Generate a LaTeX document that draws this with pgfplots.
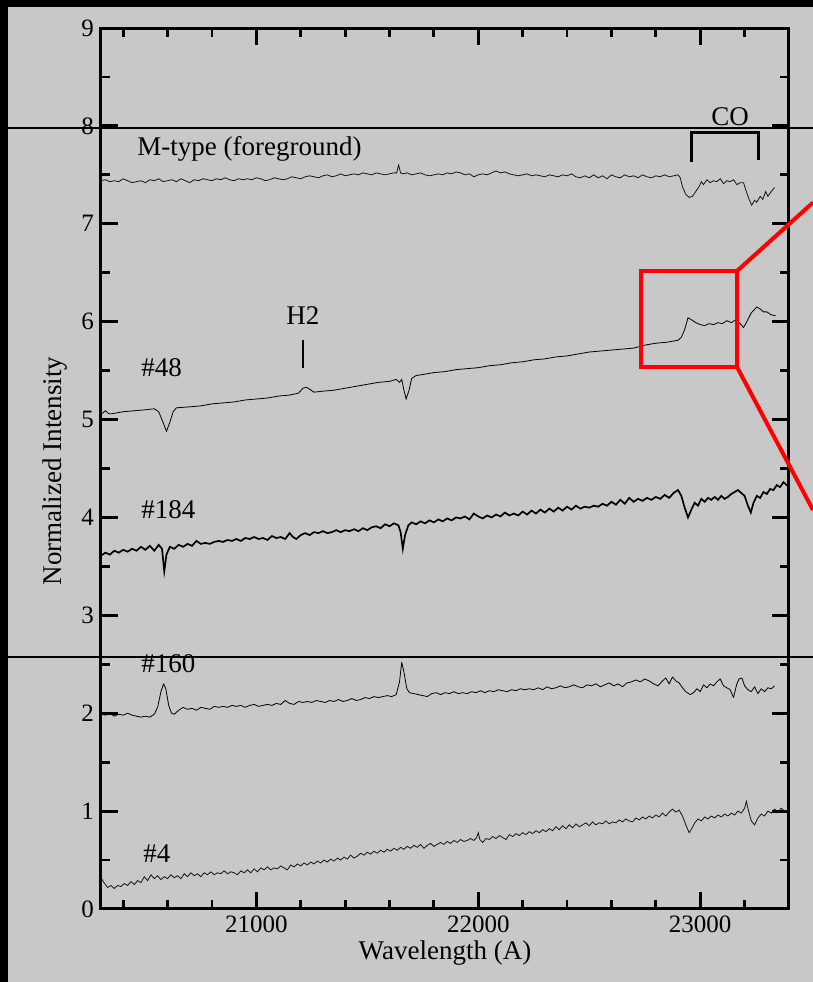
\documentclass[border=0pt]{standalone}
\usepackage{pgfplots}
\pgfplotsset{compat=1.18}
\usepackage{fontspec}
\setmainfont{Liberation Serif}
\definecolor{bggray}{RGB}{200,200,200}
\definecolor{spec}{RGB}{20,20,20}
\begin{document}
\begin{tikzpicture}
\useasboundingbox (0,0) rectangle (406.5pt,491pt);
\clip (0,0) rectangle (406.5pt,491pt);
\fill[black] (0,0) rectangle (406.5pt,491pt);
\fill[bggray] (4pt,0) rectangle (406.5pt,487.5pt);
\begin{axis}[
  at={(50.5pt,36.5pt)}, anchor=south west,
  width=344pt, height=440.5pt, scale only axis,
  xmin=20300, xmax=23400, ymin=0, ymax=9,
  scaled x ticks=false,
  xtick={21000,22000,23000}, xticklabels={21000,22000,23000},
  minor xtick={20400,20600,20800,21200,21400,21600,21800,22200,22400,22600,22800,23200},
  ytick={0,1,...,9},
  minor ytick={0.5,1.5,...,8.5},
  tick align=inside,
  major tick length=8.5pt, minor tick length=4.5pt,
  every major tick/.append style={line width=1.4pt,black},
  every minor tick/.append style={line width=1.4pt,black},
  axis line style={line width=1.5pt},
  /pgf/number format/assume math mode=true,
  tick label style={font=\fontsize{12.5}{15}\selectfont},
  xlabel={Wavelength (A)}, ylabel={Normalized Intensity},
  label style={font=\fontsize{13.5}{16}\selectfont},
  xlabel style={at={(axis description cs:0.5,-0.0499)},anchor=center},
  ylabel style={at={(axis description cs:-0.0669,0.497)},anchor=center},
  cycle list={{spec,no markers,line width=0.85pt,line join=round}},
  axis background/.style={fill=bggray},
]
% M-type (foreground)
\addplot coordinates {(20300,7.44)(20320,7.45)(20340,7.43)(20360,7.44)(20380,7.43)(20400,7.46)(20420,7.44)(20440,7.42)(20460,7.43)(20480,7.44)(20500,7.42)(20520,7.45)(20540,7.44)(20560,7.46)(20580,7.43)(20600,7.44)(20620,7.45)(20640,7.43)(20660,7.46)(20680,7.44)(20700,7.42)(20720,7.45)(20740,7.44)(20760,7.46)(20780,7.45)(20800,7.44)(20820,7.46)(20840,7.45)(20860,7.47)(20880,7.45)(20900,7.44)(20920,7.46)(20940,7.45)(20960,7.46)(20980,7.45)(21000,7.47)(21020,7.46)(21040,7.44)(21060,7.45)(21080,7.47)(21100,7.46)(21120,7.45)(21140,7.46)(21160,7.48)(21180,7.47)(21200,7.46)(21220,7.48)(21240,7.49)(21260,7.48)(21280,7.47)(21300,7.49)(21320,7.50)(21340,7.48)(21360,7.49)(21380,7.51)(21400,7.49)(21420,7.50)(21440,7.51)(21460,7.50)(21480,7.52)(21500,7.51)(21520,7.50)(21540,7.52)(21560,7.51)(21580,7.50)(21600,7.51)(21620,7.52)(21632,7.52)(21641,7.60)(21650,7.52)(21660,7.51)(21680,7.52)(21700,7.50)(21720,7.51)(21740,7.52)(21760,7.50)(21780,7.49)(21800,7.50)(21820,7.51)(21840,7.50)(21860,7.52)(21880,7.51)(21900,7.53)(21920,7.52)(21940,7.50)(21960,7.51)(21980,7.48)(22000,7.50)(22020,7.51)(22040,7.50)(22060,7.52)(22080,7.54)(22100,7.52)(22120,7.53)(22140,7.51)(22160,7.50)(22180,7.49)(22200,7.50)(22220,7.51)(22240,7.49)(22260,7.50)(22280,7.49)(22300,7.48)(22320,7.50)(22340,7.49)(22360,7.48)(22380,7.50)(22400,7.49)(22420,7.51)(22440,7.48)(22460,7.47)(22480,7.49)(22500,7.47)(22520,7.50)(22540,7.47)(22560,7.49)(22580,7.46)(22600,7.50)(22620,7.48)(22640,7.47)(22660,7.50)(22680,7.48)(22700,7.49)(22720,7.47)(22740,7.50)(22760,7.48)(22780,7.47)(22800,7.49)(22820,7.48)(22840,7.50)(22860,7.48)(22880,7.49)(22900,7.50)(22910,7.47)(22920,7.38)(22935,7.30)(22950,7.27)(22965,7.28)(22980,7.33)(22995,7.38)(23005,7.43)(23015,7.40)(23030,7.45)(23045,7.42)(23060,7.44)(23075,7.43)(23090,7.46)(23105,7.41)(23120,7.44)(23135,7.43)(23150,7.45)(23165,7.40)(23180,7.42)(23195,7.42)(23205,7.35)(23220,7.25)(23232,7.19)(23245,7.24)(23255,7.22)(23270,7.28)(23282,7.25)(23295,7.33)(23305,7.28)(23320,7.33)(23335,7.37)};
% #48
\addplot coordinates {(20300,5.05)(20310,5.07)(20320,5.09)(20335,5.06)(20350,5.06)(20400,5.08)(20450,5.09)(20500,5.10)(20540,5.11)(20560,5.08)(20580,4.97)(20595,4.88)(20610,4.97)(20625,5.08)(20640,5.12)(20700,5.13)(20750,5.14)(20800,5.16)(20850,5.17)(20900,5.18)(20950,5.20)(21000,5.21)(21050,5.22)(21100,5.24)(21150,5.25)(21190,5.27)(21210,5.32)(21225,5.33)(21240,5.31)(21260,5.28)(21300,5.29)(21350,5.30)(21400,5.32)(21450,5.34)(21500,5.36)(21550,5.38)(21600,5.39)(21630,5.41)(21645,5.38)(21655,5.41)(21665,5.30)(21675,5.21)(21688,5.30)(21700,5.42)(21720,5.45)(21750,5.46)(21800,5.48)(21850,5.49)(21900,5.51)(21950,5.52)(22000,5.53)(22050,5.55)(22100,5.56)(22150,5.58)(22200,5.59)(22250,5.61)(22300,5.62)(22350,5.64)(22400,5.65)(22450,5.67)(22500,5.69)(22550,5.70)(22600,5.71)(22650,5.72)(22700,5.73)(22750,5.76)(22800,5.78)(22850,5.79)(22900,5.81)(22915,5.84)(22930,5.92)(22945,6.04)(22960,6.02)(22980,5.99)(23000,5.97)(23020,5.96)(23040,5.98)(23060,5.97)(23080,5.99)(23100,5.98)(23120,6.01)(23140,5.99)(23160,6.02)(23180,5.98)(23195,5.94)(23210,6.00)(23230,6.09)(23255,6.15)(23270,6.13)(23285,6.10)(23300,6.10)(23320,6.07)(23340,6.06)};
% #184
\addplot coordinates {(20300,3.61)(20320,3.64)(20340,3.62)(20360,3.66)(20380,3.64)(20400,3.67)(20420,3.65)(20440,3.68)(20460,3.66)(20480,3.70)(20500,3.67)(20520,3.71)(20540,3.66)(20560,3.72)(20575,3.68)(20585,3.45)(20595,3.62)(20610,3.70)(20630,3.68)(20650,3.72)(20670,3.70)(20690,3.73)(20710,3.71)(20730,3.76)(20750,3.73)(20770,3.74)(20790,3.73)(20810,3.75)(20830,3.76)(20850,3.75)(20870,3.77)(20890,3.76)(20910,3.78)(20930,3.76)(20950,3.79)(20970,3.78)(20990,3.80)(21010,3.78)(21030,3.79)(21050,3.77)(21070,3.81)(21090,3.79)(21110,3.80)(21130,3.78)(21150,3.84)(21165,3.80)(21180,3.78)(21200,3.82)(21220,3.84)(21240,3.82)(21260,3.85)(21280,3.84)(21300,3.86)(21320,3.84)(21340,3.85)(21360,3.87)(21380,3.85)(21400,3.87)(21420,3.86)(21440,3.88)(21460,3.86)(21480,3.89)(21500,3.87)(21520,3.90)(21540,3.91)(21560,3.89)(21580,3.93)(21600,3.91)(21620,3.94)(21640,3.92)(21650,3.85)(21660,3.68)(21670,3.82)(21685,3.92)(21700,3.95)(21720,3.93)(21740,3.96)(21760,3.94)(21780,3.97)(21800,3.95)(21820,3.98)(21840,3.96)(21860,3.99)(21880,3.97)(21900,4.00)(21920,3.99)(21940,4.01)(21960,3.98)(21980,4.04)(22000,4.01)(22020,3.99)(22040,4.02)(22060,4.00)(22080,4.03)(22100,4.01)(22120,4.05)(22140,4.02)(22160,4.04)(22180,4.02)(22200,4.06)(22220,4.03)(22240,4.07)(22260,4.04)(22280,4.08)(22300,4.05)(22320,4.09)(22340,4.06)(22360,4.10)(22380,4.07)(22400,4.11)(22420,4.08)(22440,4.12)(22460,4.09)(22480,4.11)(22500,4.10)(22520,4.12)(22540,4.11)(22560,4.14)(22580,4.12)(22600,4.16)(22620,4.13)(22640,4.18)(22660,4.14)(22680,4.20)(22700,4.16)(22720,4.19)(22740,4.17)(22760,4.20)(22780,4.18)(22800,4.21)(22820,4.19)(22840,4.23)(22860,4.20)(22880,4.25)(22900,4.28)(22915,4.22)(22930,4.10)(22945,4.00)(22960,4.08)(22975,4.15)(22990,4.12)(23005,4.19)(23020,4.16)(23035,4.20)(23050,4.18)(23065,4.21)(23080,4.18)(23095,4.22)(23110,4.19)(23125,4.21)(23140,4.24)(23155,4.26)(23170,4.28)(23185,4.25)(23200,4.22)(23215,4.12)(23228,4.05)(23240,4.15)(23255,4.22)(23270,4.20)(23285,4.26)(23300,4.24)(23315,4.29)(23330,4.28)(23345,4.33)(23360,4.31)(23375,4.36)(23390,4.33)(23400,4.35)};
% #160
\addplot coordinates {(20300,1.99)(20320,1.98)(20340,2.00)(20360,1.97)(20380,1.99)(20400,1.98)(20420,2.00)(20440,1.98)(20460,1.97)(20480,1.96)(20500,1.97)(20520,1.96)(20540,1.99)(20555,2.06)(20570,2.22)(20582,2.30)(20592,2.25)(20605,2.08)(20618,2.00)(20630,1.99)(20650,2.03)(20670,2.06)(20690,2.04)(20710,2.05)(20730,2.03)(20750,2.06)(20770,2.05)(20790,2.04)(20810,2.07)(20830,2.06)(20850,2.07)(20870,2.06)(20890,2.08)(20910,2.07)(20930,2.08)(20950,2.06)(20970,2.08)(20990,2.09)(21010,2.07)(21030,2.08)(21050,2.09)(21070,2.08)(21090,2.10)(21110,2.09)(21130,2.13)(21150,2.10)(21170,2.09)(21190,2.12)(21210,2.11)(21230,2.12)(21250,2.11)(21270,2.13)(21290,2.12)(21310,2.11)(21330,2.13)(21350,2.12)(21370,2.14)(21390,2.12)(21410,2.13)(21430,2.15)(21450,2.13)(21470,2.14)(21490,2.16)(21510,2.15)(21530,2.17)(21550,2.16)(21570,2.17)(21590,2.18)(21610,2.17)(21630,2.19)(21645,2.32)(21655,2.52)(21665,2.42)(21678,2.25)(21690,2.21)(21710,2.20)(21730,2.19)(21750,2.18)(21770,2.17)(21790,2.20)(21810,2.21)(21830,2.19)(21850,2.21)(21870,2.20)(21890,2.22)(21910,2.20)(21930,2.21)(21950,2.20)(21970,2.22)(21990,2.21)(22010,2.23)(22030,2.21)(22050,2.23)(22070,2.22)(22090,2.24)(22110,2.23)(22130,2.22)(22150,2.24)(22170,2.23)(22190,2.25)(22210,2.24)(22230,2.25)(22250,2.24)(22270,2.26)(22290,2.24)(22310,2.27)(22330,2.25)(22350,2.26)(22370,2.28)(22390,2.26)(22410,2.27)(22430,2.29)(22450,2.27)(22470,2.26)(22490,2.29)(22510,2.28)(22530,2.30)(22550,2.27)(22570,2.29)(22590,2.31)(22610,2.28)(22630,2.30)(22650,2.27)(22670,2.31)(22690,2.32)(22710,2.34)(22730,2.32)(22750,2.35)(22770,2.33)(22790,2.30)(22810,2.28)(22830,2.33)(22845,2.36)(22860,2.30)(22875,2.37)(22890,2.33)(22905,2.31)(22920,2.26)(22935,2.22)(22955,2.19)(22970,2.21)(22985,2.25)(23000,2.22)(23015,2.29)(23030,2.26)(23045,2.30)(23060,2.28)(23075,2.32)(23090,2.35)(23105,2.28)(23120,2.26)(23135,2.24)(23150,2.16)(23165,2.30)(23175,2.35)(23188,2.36)(23200,2.28)(23215,2.24)(23230,2.22)(23245,2.27)(23260,2.20)(23275,2.25)(23290,2.22)(23305,2.26)(23320,2.25)(23335,2.28)};
% #4
\addplot coordinates {(20300,0.32)(20310,0.28)(20320,0.25)(20330,0.22)(20345,0.24)(20360,0.21)(20375,0.24)(20390,0.23)(20405,0.26)(20420,0.24)(20435,0.28)(20450,0.25)(20465,0.29)(20480,0.27)(20495,0.33)(20510,0.29)(20525,0.35)(20540,0.31)(20555,0.34)(20570,0.30)(20585,0.33)(20600,0.31)(20615,0.35)(20630,0.32)(20645,0.34)(20660,0.31)(20675,0.36)(20690,0.33)(20705,0.37)(20720,0.34)(20735,0.36)(20750,0.33)(20765,0.37)(20780,0.35)(20795,0.38)(20810,0.35)(20825,0.37)(20840,0.36)(20855,0.39)(20870,0.36)(20885,0.38)(20900,0.37)(20915,0.35)(20930,0.39)(20945,0.37)(20960,0.40)(20975,0.37)(20990,0.41)(21005,0.38)(21020,0.42)(21035,0.40)(21050,0.43)(21065,0.40)(21080,0.42)(21095,0.41)(21110,0.44)(21125,0.42)(21140,0.40)(21155,0.45)(21170,0.43)(21185,0.46)(21200,0.44)(21215,0.47)(21230,0.45)(21245,0.48)(21260,0.46)(21275,0.49)(21290,0.47)(21305,0.50)(21320,0.48)(21335,0.51)(21350,0.49)(21365,0.52)(21380,0.50)(21395,0.53)(21410,0.51)(21425,0.55)(21440,0.52)(21455,0.54)(21470,0.57)(21485,0.55)(21500,0.58)(21515,0.56)(21530,0.59)(21545,0.57)(21560,0.60)(21575,0.58)(21590,0.61)(21605,0.59)(21620,0.62)(21635,0.60)(21650,0.63)(21665,0.61)(21680,0.64)(21695,0.62)(21710,0.65)(21725,0.63)(21740,0.66)(21755,0.62)(21770,0.65)(21785,0.67)(21800,0.64)(21815,0.66)(21830,0.68)(21845,0.66)(21860,0.69)(21875,0.67)(21890,0.70)(21905,0.68)(21920,0.71)(21935,0.69)(21950,0.70)(21965,0.72)(21980,0.70)(21993,0.73)(22000,0.78)(22007,0.71)(22020,0.68)(22035,0.72)(22050,0.71)(22065,0.74)(22080,0.72)(22095,0.75)(22110,0.73)(22125,0.71)(22140,0.76)(22155,0.74)(22170,0.77)(22185,0.75)(22200,0.78)(22215,0.76)(22230,0.79)(22245,0.77)(22260,0.80)(22275,0.78)(22290,0.81)(22305,0.79)(22320,0.82)(22335,0.80)(22350,0.84)(22365,0.81)(22380,0.85)(22395,0.82)(22410,0.86)(22425,0.83)(22440,0.87)(22455,0.84)(22470,0.86)(22485,0.88)(22500,0.85)(22515,0.89)(22530,0.86)(22545,0.88)(22560,0.87)(22575,0.90)(22590,0.87)(22605,0.89)(22620,0.88)(22635,0.91)(22650,0.89)(22665,0.92)(22680,0.90)(22695,0.89)(22710,0.93)(22725,0.91)(22740,0.94)(22755,0.92)(22770,0.95)(22785,0.93)(22800,0.96)(22815,0.94)(22830,0.98)(22845,0.95)(22860,0.99)(22875,1.02)(22890,0.99)(22905,1.01)(22920,0.95)(22935,0.86)(22950,0.78)(22962,0.82)(22975,0.88)(22990,0.92)(23005,0.90)(23020,0.94)(23035,0.92)(23050,0.95)(23065,0.93)(23080,0.96)(23095,0.94)(23110,0.97)(23125,0.95)(23140,0.98)(23155,0.96)(23170,1.00)(23185,0.98)(23200,1.03)(23208,1.10)(23218,1.00)(23230,0.90)(23245,0.86)(23260,0.93)(23275,0.97)(23290,0.95)(23305,1.00)(23320,0.98)(23335,1.02)(23350,0.99)(23365,1.03)(23380,1.00)(23400,1.01)};
% annotations
\begin{scope}[font=\fontsize{13.5}{16}\selectfont]
\node[anchor=west,inner sep=0] at (axis cs:20462,7.76) {M-type (foreground)};
\node[anchor=west,inner sep=0] at (axis cs:20480,5.53) {\#48};
\node[anchor=west,inner sep=0] at (axis cs:20480,4.08) {\#184};
\node[anchor=west,inner sep=0] at (axis cs:20480,2.51) {\#160};
\node[anchor=west,inner sep=0] at (axis cs:20489,0.57) {\#4};
\node[inner sep=0] at (axis cs:21210,6.06) {H2};
\node[inner sep=0] at (axis cs:23135,8.09) {CO};
\end{scope}
\draw[line width=1.4pt] (axis cs:21210,5.81) -- (axis cs:21210,5.53);
\draw[line width=1.4pt] (axis cs:22959,7.63) -- (axis cs:22959,7.93) -- (axis cs:23261,7.93) -- (axis cs:23261,7.65);
\end{axis}
% overlay lines and zoom box
\draw[black, line width=0.75pt] (4pt,427pt) -- (406.5pt,427pt);
\draw[black, line width=0.75pt] (4pt,162.5pt) -- (406.5pt,162.5pt);
\draw[red, line width=2pt] (320.5pt,355.5pt) rectangle (368.5pt,307.5pt);
\draw[red, line width=2pt] (368.5pt,355.5pt) -- (406.5pt,389.75pt);
\draw[red, line width=2pt] (368.5pt,307.5pt) -- (406.5pt,236pt);
\end{tikzpicture}
\end{document}
